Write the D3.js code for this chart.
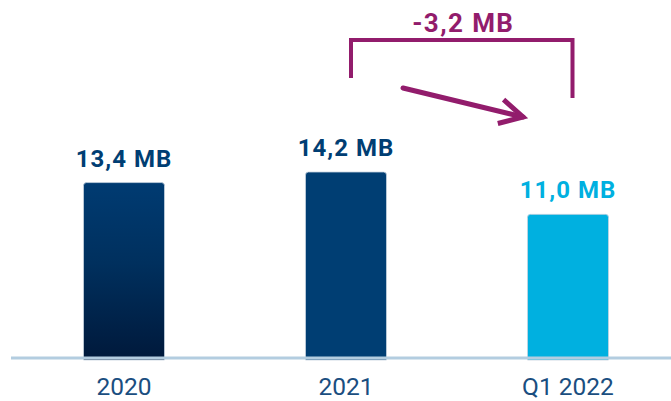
<!DOCTYPE html>
<html>
<head>
<meta charset="utf-8">
<script src="https://cdn.jsdelivr.net/npm/d3@7"></script>
<style>
  body { margin: 0; background: #fff; }
  svg { display: block; font-family: Roboto, "Noto Sans", sans-serif; }
</style>
</head>
<body>
<div id="chart"></div>
<script>
// bar chart of MB per period, with the drop annotation on top

var width = 671
var height = 401

var periods = ["2020", "2021", "Q1 2022"]
var values = [13.4, 14.2, 11.0]
var labels = ["13,4 MB", "14,2 MB", "11,0 MB"]
var deltaLabel = "-3,2 MB"

var navy = "#003e73"
var cyan = "#00b0e0"
var plum = "#921c6c"

var baseY = 360

var svg = d3.select("#chart")
        .append("svg")
        .attr("width", width)
        .attr("height", height)

var defs = svg.append("defs")
var grad = defs.append("linearGradient")
        .attr("id", "fade")
        .attr("x1", 0).attr("y1", 0)
        .attr("x2", 0).attr("y2", 1)
grad.append("stop").attr("offset", "0%").attr("stop-color", "#003b72")
grad.append("stop").attr("offset", "45%").attr("stop-color", "#00305e")
grad.append("stop").attr("offset", "100%").attr("stop-color", "#00193b")

var x = d3.scaleBand()
        .domain(periods)
        .range([13, 679])
        .paddingInner(0.635)
        .paddingOuter(0.3175)

var y = d3.scaleLinear()
        .domain([0, 14.2])
        .range([baseY, 172])

var fills = ["url(#fade)", navy, cyan]
var labelColors = [navy, navy, cyan]

// bars with slightly rounded top corners
function barPath(x0, y0, w, y1) {
    var r = 3
    return "M" + x0 + "," + y1 +
        "V" + (y0 + r) +
        "Q" + x0 + "," + y0 + " " + (x0 + r) + "," + y0 +
        "H" + (x0 + w - r) +
        "Q" + (x0 + w) + "," + y0 + " " + (x0 + w) + "," + (y0 + r) +
        "V" + y1 + "Z"
}

svg.selectAll(".bar")
    .data(values)
    .enter()
    .append("path")
    .attr("class", "bar")
    .attr("d", function(d, i) { return barPath(x(periods[i]), y(d), x.bandwidth(), baseY) })
    .attr("fill", function(d, i) { return fills[i] })
    .attr("stroke", "#c6d3e0")
    .attr("stroke-width", 0.8)

svg.selectAll(".value")
    .data(values)
    .enter()
    .append("text")
    .attr("class", "value")
    .attr("x", function(d, i) { return x(periods[i]) + x.bandwidth() / 2 })
    .attr("y", function(d) { return y(d) - 16 })
    .attr("text-anchor", "middle")
    .attr("font-size", 24)
    .attr("font-weight", 700)
    .attr("letter-spacing", 1)
    .attr("fill", function(d, i) { return labelColors[i] })
    .text(function(d, i) { return labels[i] })

// baseline
svg.append("line")
    .attr("x1", 11)
    .attr("x2", width)
    .attr("y1", baseY - 2)
    .attr("y2", baseY - 2)
    .attr("stroke", "#b3cde0")
    .attr("stroke-width", 3)

// category labels
var axis = svg.append("g")
        .attr("transform", "translate(0," + baseY + ")")
        .call(d3.axisBottom(x).tickSize(0).tickPadding(18))
axis.select(".domain").remove()
axis.selectAll("text")
    .attr("font-family", "Roboto, sans-serif")
    .attr("font-size", 24.5)
    .attr("fill", "#1a4e80")

// bracket from 2021 to Q1 2022
var leftX = x("2021") + x.bandwidth() / 2 + 5
var rightX = x("Q1 2022") + x.bandwidth() / 2 + 4.5

svg.append("path")
    .attr("d", "M" + leftX + ",78V40H" + rightX + "V98")
    .attr("fill", "none")
    .attr("stroke", plum)
    .attr("stroke-width", 4)
    .attr("stroke-linejoin", "miter")

svg.append("text")
    .attr("x", (leftX + rightX) / 2 + 1.5)
    .attr("y", 32)
    .attr("text-anchor", "middle")
    .attr("font-size", 26)
    .attr("font-weight", 700)
    .attr("letter-spacing", 1.4)
    .attr("fill", plum)
    .text(deltaLabel)

// arrow pointing down towards Q1 2022
var a0 = [403, 88]
var a1 = [523, 117]
var ang = Math.atan2(a1[1] - a0[1], a1[0] - a0[0])
var headLen = 26
var spread = 28 * Math.PI / 180
var h1 = [a1[0] - headLen * Math.cos(ang - spread), a1[1] - headLen * Math.sin(ang - spread)]
var h2 = [a1[0] - headLen * Math.cos(ang + spread), a1[1] - headLen * Math.sin(ang + spread)]

svg.append("path")
    .attr("d", "M" + a0 + "L" + a1)
    .attr("stroke", plum)
    .attr("stroke-width", 5)
    .attr("stroke-linecap", "round")
svg.append("path")
    .attr("d", "M" + h1 + "L" + a1 + "L" + h2)
    .attr("fill", "none")
    .attr("stroke", plum)
    .attr("stroke-width", 5)
    .attr("stroke-linejoin", "miter")
</script>
</body>
</html>
